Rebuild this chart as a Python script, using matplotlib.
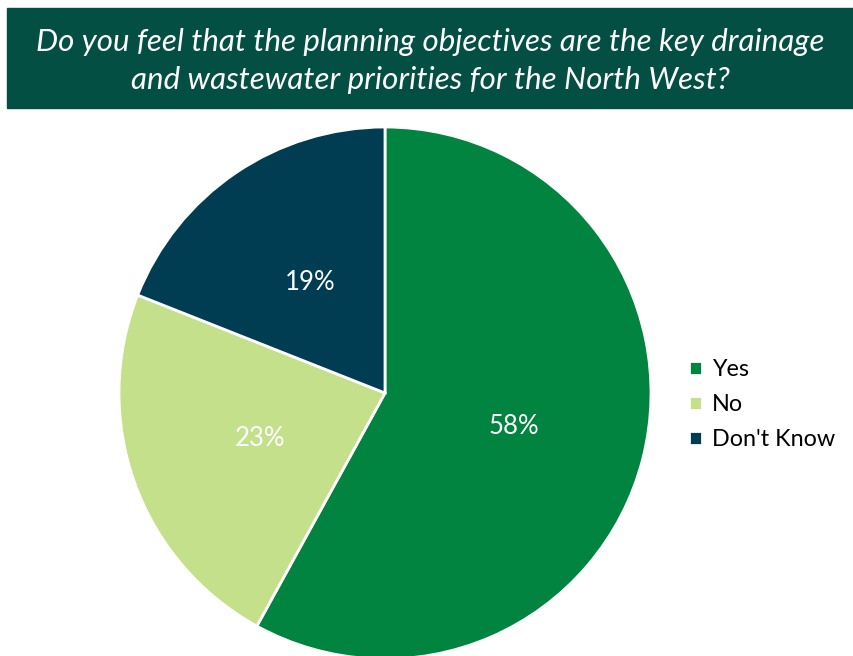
import numpy as np
import matplotlib.pyplot as plt
from matplotlib.patches import Rectangle

title = "Do you feel that the planning objectives are the key drainage\nand wastewater priorities for the North West?"
labels = ['Yes', 'No', "Don't Know"]
values = [58, 23, 19]
colours = ['#00843F', '#C5E08B', '#003D52']

W, H = 854, 656
fig = plt.figure(figsize=(W / 100, H / 100), dpi=100)
ax = fig.add_axes([0, 0, 1, 1])

# pie in pixel units (y measured up from the bottom)
wedges, texts, pcts = ax.pie(values, colors=colours, startangle=90, counterclock=False,
                             center=(385, H - 393), radius=266,
                             autopct='%1.0f%%', pctdistance=0.5,
                             wedgeprops=dict(edgecolor='white', linewidth=2),
                             textprops=dict(color='white', fontsize=18.5, family='Lato'))
ax.set_xlim(0, W)
ax.set_ylim(0, H)
ax.set_aspect('auto')
ax.axis('off')

# title banner
ax.add_patch(Rectangle((7, H - 108), W - 7, 100, color='#034F43', zorder=5))
ax.text(430, H - 61, title, ha='center', va='center', color='white', fontsize=22.5,
        style='italic', family='Lato', linespacing=1.45, zorder=6)

leg = ax.legend(wedges, labels, loc='upper left', bbox_to_anchor=(689 / W, 1 - 359 / H),
                frameon=False, handlelength=0.55, handleheight=0.55, handletextpad=0.45,
                labelspacing=0.6, borderpad=0, borderaxespad=0,
                prop=dict(family='Lato', size=16.8))

fig.savefig('out.png', dpi=100)
